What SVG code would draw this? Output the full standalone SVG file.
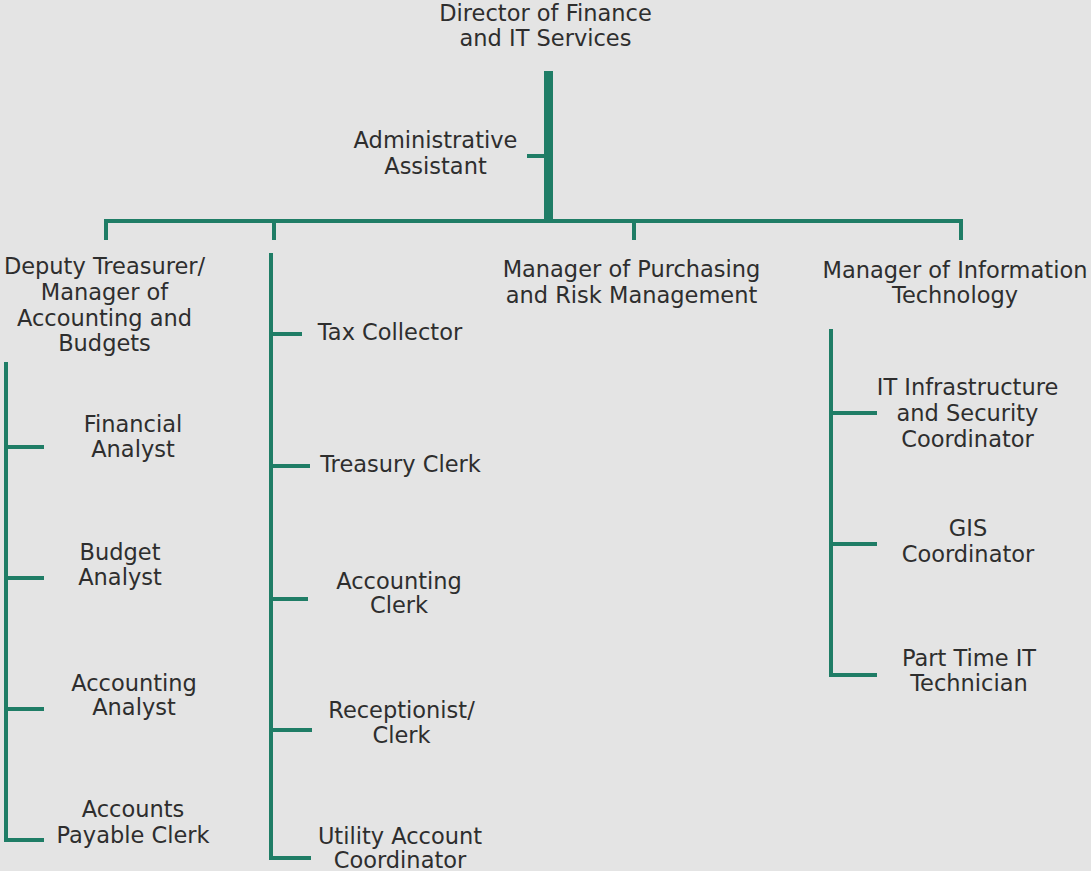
<svg xmlns="http://www.w3.org/2000/svg" width="1091" height="871" viewBox="0 0 1091 871">
<style>
text{font-family:"DejaVu Sans","Liberation Sans",sans-serif;font-size:22.5px;fill:#2e2e2e;text-anchor:middle}
.l{stroke:#1f7d66;fill:none;stroke-width:4}
.t{stroke:#1f7d66;fill:none;stroke-width:9}
</style>
<rect width="1091" height="871" fill="#e4e4e4"/>
<g id="connectors">
<line class="t" x1="548.5" y1="71" x2="548.5" y2="221"/>
<line class="l" x1="527" y1="156" x2="546" y2="156"/>
<polyline class="l" points="106,240 106,221 961,221 961,240"/>
<line class="l" x1="274" y1="221" x2="274" y2="240"/>
<line class="l" x1="634" y1="221" x2="634" y2="240"/>
<polyline class="l" points="6,362 6,840 44,840"/>
<line class="l" x1="6" y1="447" x2="44" y2="447"/>
<line class="l" x1="6" y1="578" x2="44" y2="578"/>
<line class="l" x1="6" y1="709" x2="44" y2="709"/>
<polyline class="l" points="271,253 271,858 311,858"/>
<line class="l" x1="271" y1="334" x2="302" y2="334"/>
<line class="l" x1="271" y1="466" x2="310" y2="466"/>
<line class="l" x1="271" y1="599" x2="308" y2="599"/>
<line class="l" x1="271" y1="730" x2="312" y2="730"/>
<polyline class="l" points="831,329 831,675 877,675"/>
<line class="l" x1="831" y1="413" x2="877" y2="413"/>
<line class="l" x1="831" y1="544" x2="877" y2="544"/>
</g>
<g id="director"><text x="545.5" y="21">Director of Finance</text><text x="545.5" y="46">and IT Services</text></g>
<g id="admin"><text x="435.5" y="148">Administrative</text><text x="435.5" y="174">Assistant</text></g>
<g id="deputy"><text x="104.5" y="274">Deputy Treasurer/</text><text x="104.5" y="300">Manager of</text><text x="104.5" y="325.5">Accounting and</text><text x="104.5" y="351">Budgets</text></g>
<g id="purchasing"><text x="631.5" y="277">Manager of Purchasing</text><text x="631.5" y="303">and Risk Management</text></g>
<g id="itmanager"><text x="955" y="278">Manager of Information</text><text x="955" y="303">Technology</text></g>
<g id="financial"><text x="133" y="432">Financial</text><text x="133" y="457">Analyst</text></g>
<g id="budget"><text x="120" y="560">Budget</text><text x="120" y="585">Analyst</text></g>
<g id="accanalyst"><text x="134" y="691">Accounting</text><text x="134" y="715">Analyst</text></g>
<g id="payable"><text x="133" y="817">Accounts</text><text x="133" y="843">Payable Clerk</text></g>
<g id="tax"><text x="390" y="340">Tax Collector</text></g>
<g id="treasury"><text x="400.5" y="472">Treasury Clerk</text></g>
<g id="accclerk"><text x="399" y="589">Accounting</text><text x="399" y="613">Clerk</text></g>
<g id="receptionist"><text x="401.5" y="718">Receptionist/</text><text x="401.5" y="743">Clerk</text></g>
<g id="utility"><text x="400" y="844">Utility Account</text><text x="400" y="868">Coordinator</text></g>
<g id="itinfra"><text x="967.5" y="395">IT Infrastructure</text><text x="967.5" y="421">and Security</text><text x="967.5" y="447">Coordinator</text></g>
<g id="gis"><text x="968" y="536">GIS</text><text x="968" y="562">Coordinator</text></g>
<g id="parttime"><text x="969" y="666">Part Time IT</text><text x="969" y="691">Technician</text></g>
</svg>
